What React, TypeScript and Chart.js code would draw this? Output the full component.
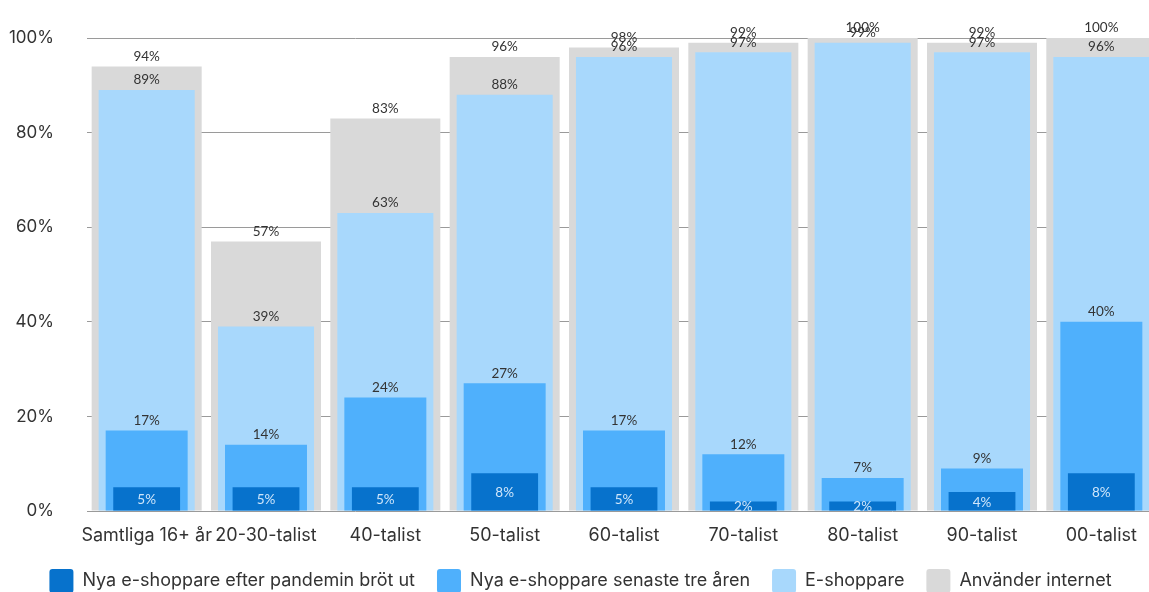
import React, { useEffect, useRef } from "react";
import { Chart, registerables } from "chart.js";

Chart.register(...registerables);

const categories = [
  "Samtliga 16+ år",
  "20-30-talist",
  "40-talist",
  "50-talist",
  "60-talist",
  "70-talist",
  "80-talist",
  "90-talist",
  "00-talist",
];
const seriesNames = [
  "Nya e-shoppare efter pandemin bröt ut",
  "Nya e-shoppare senaste tre åren",
  "E-shoppare",
  "Använder internet",
];
const nyaPandemin = [5, 5, 5, 8, 5, 2, 2, 4, 8];
const nyaTreAr = [17, 14, 24, 27, 17, 12, 7, 9, 40];
const eShoppare = [89, 39, 63, 88, 96, 97, 99, 97, 96];
const anvanderInternet = [94, 57, 83, 96, 98, 99, 100, 99, 100];
const yTicks = [0, 20, 40, 60, 80, 100];

const FONT = "Inter, 'Noto Sans', sans-serif";
const LABEL_FONT = "Lato, 'Noto Sans', sans-serif";

const labelPlugin = {
  id: "valueLabels",
  afterDatasetsDraw(chart: any) {
    const ctx = chart.ctx;
    ctx.save();
    ctx.textAlign = "center";
    ctx.textBaseline = "middle";
    ctx.font = `13.5px ${LABEL_FONT}`;
    for (let i = chart.data.datasets.length - 1; i >= 0; i--) {
      const meta = chart.getDatasetMeta(i);
      const data = chart.data.datasets[i].data as number[];
      meta.data.forEach((el: any, j: number) => {
        const text = data[j] + "%";
        if (i === 0) {
          ctx.fillStyle = "#cfe6fb";
          ctx.fillText(text, el.x, (el.y + el.base) / 2 + 1);
        } else {
          ctx.fillStyle = "#333333";
          ctx.fillText(text, el.x, el.y - 10);
        }
      });
    }
    ctx.restore();
  },
};

export default function App() {
  const ref = useRef<HTMLCanvasElement>(null);
  useEffect(() => {
    document.body.style.margin = "0";
    document.body.style.overflow = "hidden";
    document.documentElement.style.overflow = "hidden";
    const chart = new Chart(ref.current!, {
      type: "bar",
      data: {
        labels: categories,
        datasets: [
          { label: seriesNames[0], data: nyaPandemin, backgroundColor: "#0772cc", barPercentage: 0.56, categoryPercentage: 1, grouped: false },
          { label: seriesNames[1], data: nyaTreAr, backgroundColor: "#4fb0fc", barPercentage: 0.687, categoryPercentage: 1, grouped: false },
          { label: seriesNames[2], data: eShoppare, backgroundColor: "#a8d8fc", barPercentage: 0.805, categoryPercentage: 1, grouped: false },
          { label: seriesNames[3], data: anvanderInternet, backgroundColor: "#d9d9d9", barPercentage: 0.922, categoryPercentage: 1, grouped: false },
        ],
      },
      options: {
        animation: false,
        responsive: false,
        maintainAspectRatio: false,
        layout: { padding: { top: 38, left: 0, right: 0, bottom: 0 } },
        plugins: {
          tooltip: { enabled: false },
          legend: {
            position: "bottom",
            labels: {
              font: { family: FONT, size: 18 },
              color: "#333333",
              boxWidth: 24,
              boxHeight: 24,
              padding: 22,
              useBorderRadius: true,
              borderRadius: 3,
            },
          },
        },
        scales: {
          x: {
            stacked: false,
            grid: { display: false, drawTicks: false },
            border: { display: false },
            ticks: { font: { family: FONT, size: 18 }, color: "#333333", padding: 14, maxRotation: 0, autoSkip: false },
            afterFit: (s: any) => { s.height = 36; },
          },
          y: {
            min: 0,
            max: 100,
            afterBuildTicks: (s: any) => { s.ticks = yTicks.map((v) => ({ value: v })); },
            grid: { color: "#9a9a9a", drawTicks: true, tickLength: 28, tickColor: "rgba(0,0,0,0)" },
            border: { display: false },
            ticks: { font: { family: FONT, size: 17 }, color: "#333333", padding: 5, callback: (v: any) => v + "%" },
            afterFit: (s: any) => { s.width = 87; },
          },
        },
      },
      plugins: [labelPlugin],
    });
    return () => chart.destroy();
  }, []);
  return <canvas ref={ref} width={1161} height={603} style={{ display: "block" }} />;
}
